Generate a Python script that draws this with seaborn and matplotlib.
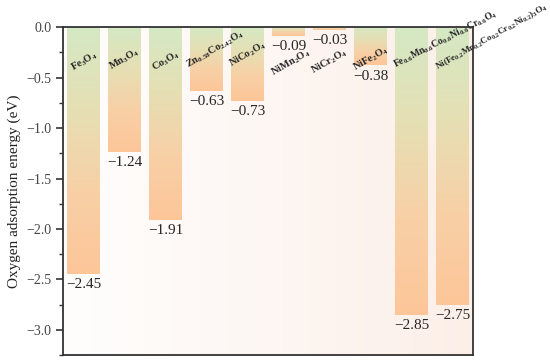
import matplotlib
matplotlib.use('Agg')
import matplotlib.pyplot as plt
import matplotlib.colors as mcolors
import numpy as np
import pandas as pd
import seaborn as sns

materials = [
    r'$\mathbf{Fe_3O_4}$',
    r'$\mathbf{Mn_3O_4}$',
    r'$\mathbf{Co_3O_4}$',
    r'$\mathbf{Zn_{0.58}Co_{2.42}O_4}$',
    r'$\mathbf{NiCo_2O_4}$',
    r'$\mathbf{NiMn_2O_4}$',
    r'$\mathbf{NiCr_2O_4}$',
    r'$\mathbf{NiFe_2O_4}$',
    r'$\mathbf{Fe_{0.6}Mn_{0.6}Co_{0.6}Ni_{0.6}Cr_{0.6}O_4}$',
    r'$\mathbf{Ni(Fe_{0.2}Mn_{0.2}Co_{0.2}Cr_{0.2}Ni_{0.2})_3O_4}$',
]
energies = [-2.45, -1.24, -1.91, -0.63, -0.73, -0.09, -0.03, -0.38, -2.85, -2.75]
value_text = ['\u22122.45', '\u22121.24', '\u22121.91', '\u22120.63', '\u22120.73',
              '\u22120.09', '\u22120.03', '\u22120.38', '\u22122.85', '\u22122.75']

df = pd.DataFrame({'material': [str(i) for i in range(len(materials))], 'energy': energies})

sns.set_style('ticks')
plt.rcParams['font.family'] = ['Liberation Serif', 'DejaVu Serif']
plt.rcParams['mathtext.fontset'] = 'custom'
plt.rcParams['mathtext.rm'] = 'Liberation Serif'
plt.rcParams['mathtext.bf'] = 'Liberation Serif:bold'
plt.rcParams['mathtext.it'] = 'Liberation Serif:italic'

fig = plt.figure(figsize=(5.5, 3.62), dpi=100)
ax = fig.add_axes([0.115, 0.019, 0.745, 0.906])

sns.barplot(data=df, x='material', y='energy', ax=ax, width=0.8, color='white')

ax.set_xlim(-0.5, 9.5)
ax.set_ylim(-3.25, 0)

# background gradient (white -> light peach)
bg = mcolors.LinearSegmentedColormap.from_list('bg', ['#fffefd', '#fcefe8'])
ax.imshow(np.linspace(0, 1, 256).reshape(1, -1), cmap=bg, aspect='auto',
          extent=(-0.5, 9.5, -3.25, 0), zorder=0)

# bar gradient: green at top -> orange at bottom
barcm = mcolors.LinearSegmentedColormap.from_list('bar', ['#d4e9c4', '#e6dfb4', '#f8d0a6', '#fdc699'])
grad = np.linspace(0, 1, 256).reshape(-1, 1)
for p in ax.patches:
    x0, w = p.get_x(), p.get_width()
    y0, h = p.get_y(), p.get_height()
    top, bot = max(y0, y0 + h), min(y0, y0 + h)
    p.set_visible(False)
    ax.imshow(grad, cmap=barcm, aspect='auto', extent=(x0, x0 + w, bot, top),
              origin='upper', zorder=2)

# value labels below bars
for i, (v, t) in enumerate(zip(energies, value_text)):
    ax.text(i, v - 0.04, t, ha='center', va='top', fontsize=11, zorder=4)

# material labels inside bars
label_y = [-0.34, -0.32, -0.34, -0.22, -0.27, -0.35, -0.34, -0.31]
label_dx = [0, 0, 0, 0.2, 0, 0.05, 0, 0]
for i, lab in enumerate(materials[:8]):
    ax.text(i + label_dx[i], label_y[i], lab, rotation=30, ha='center', va='center',
            fontsize=7.5, rotation_mode='anchor', zorder=4)
ax.text(7.58, -0.38, materials[8], rotation=27, ha='left', va='center', fontsize=7,
        rotation_mode='anchor', zorder=4, clip_on=False)
ax.text(8.6, -0.4, materials[9], rotation=29, ha='left', va='center', fontsize=6.6,
        rotation_mode='anchor', zorder=4, clip_on=False)

ax.set_xticks([])
ax.set_xlabel('')
ax.set_yticks(np.arange(0, -3.01, -0.5))
ax.set_yticks(np.arange(0, -3.26, -0.25), minor=True)
ax.set_yticklabels(['0.0', '\u22120.5', '\u22121.0', '\u22121.5', '\u22122.0', '\u22122.5', '\u22123.0'])
ax.tick_params(axis='y', which='major', length=5, width=1.2, direction='out', labelsize=10, colors='#333333')
ax.tick_params(axis='y', which='minor', length=3, width=1.0, direction='out', colors='#333333')
ax.tick_params(axis='y', labelcolor='#444444')
ax.set_ylabel('Oxygen adsorption energy (eV)', fontsize=11, color='#222222')

for s in ax.spines.values():
    s.set_visible(True)
    s.set_linewidth(1.3)
    s.set_color('#333333')
    s.set_zorder(5)

fig.savefig('out.png', dpi=100)
